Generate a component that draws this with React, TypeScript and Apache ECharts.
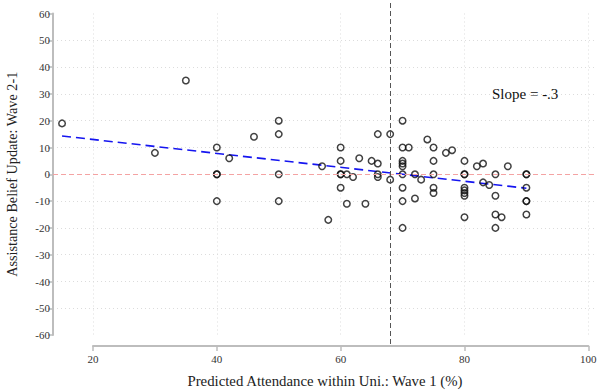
import React, { useEffect, useRef } from "react";
import * as echarts from "echarts";

// Predicted attendance (wave 1, %) and assistance belief update (wave 2 - wave 1)
const attendance = [
  15, 30, 35, 40, 40, 40, 40, 42, 46, 50, 50, 50, 50, 57, 58, 60, 60, 60, 60, 60,
  61, 61, 62, 63, 64, 65, 66, 66, 66, 66, 68, 68, 70, 70, 70, 70, 70, 70, 70, 70,
  70, 71, 72, 72, 73, 74, 75, 75, 75, 75, 75, 77, 78, 80, 80, 80, 80, 80, 80, 80,
  80, 82, 83, 83, 84, 85, 85, 85, 85, 86, 87, 90, 90, 90, 90, 90, 90,
];
const beliefUpdate = [
  19, 8, 35, 10, 0, 0, -10, 6, 14, 20, 15, 0, -10, 3, -17, 10, 5, 0, 0, -5,
  0, -11, -1, 6, -11, 5, 15, 4, 0, -1, 15, -2, 20, 10, 5, 4, 3, 0, -5, -10,
  -20, 10, 0, -9, -2, 13, 10, 5, 0, -5, -7, 8, 9, 5, 0, 0, -5, -6, -7, -8,
  -16, 3, 4, -3, -4, 0, -8, -15, -20, -16, 3, 0, 0, -5, -10, -10, -15,
];

// Fitted regression line (endpoints) and reference values
const fitX = [15, 90];
const fitY = [14.3, -5.2];
const zeroUpdate = 0;
const meanAttendance = 68;
const slopeLabel = "Slope = -.3";
const xTitle = "Predicted Attendance within Uni.: Wave 1 (%)";
const yTitle = "Assistance Belief Update: Wave 2-1";

const xTicks = [20, 40, 60, 80, 100];
const yMin = -60;
const yMax = 60;
const yGridValues = [-50, -40, -30, -20, -10, 0, 10, 20, 30, 40, 50];

const FONT = "'Liberation Serif', 'Times New Roman', serif";

export default function App() {
  const ref = useRef<HTMLDivElement>(null);

  useEffect(() => {
    if (!ref.current) return;
    const chart = echarts.init(ref.current, undefined, { renderer: "svg" });

    // labelled axes live in grid 1; the plot region (grid 0) is wider and taller
    const W = 597;
    const H = 391;
    const axLeft = 93;
    const axRight = 8.7;
    const axTop = 13.5;
    const axBottom = 55.9;
    const plotLeft = 53;
    const plotTop = 0;
    const plotBottom = 47;

    const xPx = (W - axLeft - axRight) / (xTicks[xTicks.length - 1] - xTicks[0]);
    const xMinP = xTicks[0] - (axLeft - plotLeft) / xPx;
    const xMaxP = xTicks[xTicks.length - 1] + axRight / xPx;

    const yPx = (H - axTop - axBottom) / (yMax - yMin);
    const yMaxP = yMax + (axTop - plotTop) / yPx;
    const yMinP = yMin - (axBottom - plotBottom) / yPx;

    const points = attendance.map((x, i) => [x, beliefUpdate[i]]);
    const fitLine = fitX.map((x, i) => [x, fitY[i]]);

    const labelStyle = { fontFamily: FONT, fontSize: 11, color: "#333" };
    const nameStyle = { fontFamily: FONT, fontSize: 14.8, color: "#222", fontWeight: "normal" };
    const gridLine = { show: true, lineStyle: { color: "#dcdcdc", type: [1, 3], width: 1 } };

    chart.setOption({
      animation: false,
      backgroundColor: "#ffffff",
      textStyle: { fontFamily: FONT },
      title: [
        {
          text: slopeLabel,
          left: 492,
          top: 86,
          padding: 0,
          textStyle: { fontFamily: FONT, fontSize: 15, fontWeight: "normal", color: "#111" },
        },
        {
          text: xTitle,
          left: (plotLeft + W) / 2,
          textAlign: "center",
          top: 373,
          padding: 0,
          textStyle: nameStyle,
        },
      ],
      grid: [
        { left: plotLeft, right: 0, top: plotTop, bottom: plotBottom, outerBoundsMode: "none" },
        { left: axLeft, right: axRight, top: axTop, bottom: axBottom, outerBoundsMode: "none" },
      ],
      xAxis: [
        {
          gridIndex: 0,
          type: "value",
          min: xMinP,
          max: xMaxP,
          show: false,
        },
        {
          gridIndex: 1,
          type: "value",
          min: 20,
          max: 100,
          interval: 20,
          offset: 11,
          axisLine: { show: true, onZero: false, lineStyle: { color: "#bdbdbd", width: 2 } },
          axisTick: { show: true, length: 5, lineStyle: { color: "#bdbdbd", width: 1.5 } },
          axisLabel: { ...labelStyle, margin: 7 },
          splitLine: gridLine,
        },
      ],
      yAxis: [
        {
          gridIndex: 0,
          type: "value",
          min: yMinP,
          max: yMaxP,
          axisLine: { show: false, onZero: false },
          axisTick: { show: false, customValues: yGridValues },
          axisLabel: { show: false },
          splitLine: gridLine,
        },
        {
          gridIndex: 1,
          type: "value",
          min: yMin,
          max: yMax,
          interval: 10,
          offset: 40,
          axisLine: { show: true, onZero: false, lineStyle: { color: "#bdbdbd", width: 2 } },
          axisTick: { show: true, length: 5, lineStyle: { color: "#bdbdbd", width: 1.5 } },
          axisLabel: { ...labelStyle, margin: 3 },
          splitLine: { show: false },
          name: yTitle,
          nameLocation: "middle",
          nameGap: 34,
          nameTextStyle: { ...nameStyle, fontSize: 14.2 },
        },
      ],
      series: [
        {
          // zero-update reference line
          type: "line",
          xAxisIndex: 0,
          yAxisIndex: 0,
          data: [],
          z: 2,
          markLine: {
            silent: true,
            symbol: "none",
            label: { show: false },
            lineStyle: { color: "#f4a3a3", type: [5, 3], width: 1 },
            data: [{ yAxis: zeroUpdate }],
          },
        },
        {
          // mean predicted attendance
          type: "line",
          xAxisIndex: 0,
          yAxisIndex: 0,
          data: [],
          z: 2,
          markLine: {
            silent: true,
            symbol: "none",
            label: { show: false },
            lineStyle: { color: "#555555", type: [5, 3], width: 1 },
            data: [{ xAxis: meanAttendance }],
          },
        },
        {
          type: "line",
          xAxisIndex: 0,
          yAxisIndex: 0,
          data: fitLine,
          showSymbol: false,
          symbol: "none",
          lineStyle: { color: "#1515f0", width: 1.6, type: [9, 5] },
          z: 3,
        },
        {
          type: "scatter",
          xAxisIndex: 0,
          yAxisIndex: 0,
          data: points,
          symbol: "circle",
          symbolSize: 6.5,
          itemStyle: { color: "rgba(255,255,255,0)", borderColor: "#111", borderWidth: 1.5 },
          z: 4,
        },
      ],
    });

    return () => chart.dispose();
  }, []);

  return (
    <div
      ref={ref}
      style={{ position: "fixed", left: 0, top: 0, width: 597, height: 391 }}
    />
  );
}
